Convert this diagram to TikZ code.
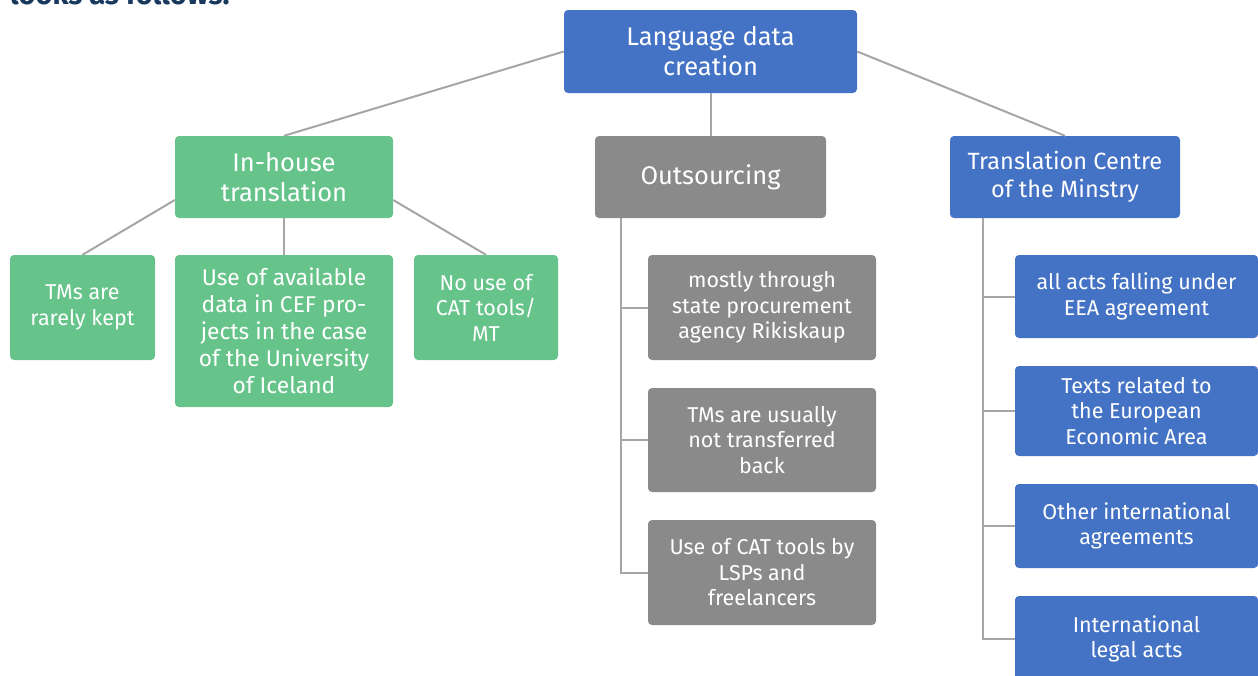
\documentclass[tikz,border=0pt]{standalone}
\usepackage{fontspec}
\setmainfont{Fira Sans}
\usetikzlibrary{calc}
\definecolor{boxblue}{RGB}{68,114,196}
\definecolor{boxgreen}{RGB}{102,196,138}
\definecolor{boxgray}{RGB}{138,138,138}
\definecolor{linegray}{RGB}{166,166,166}
\definecolor{navy}{RGB}{24,56,94}
\tikzset{
  box/.style={rounded corners=4pt, draw=none, text=white, align=center,
    inner sep=0pt, font=\fontsize{21.5}{25.5}\selectfont},
  bigbox/.style={box, font=\fontsize{25.5}{30}\selectfont},
  bluebox/.style={box, fill=boxblue},
  greenbox/.style={box, fill=boxgreen},
  graybox/.style={box, fill=boxgray},
  conn/.style={draw=linegray, line width=2pt},
}
\begin{document}
\begin{tikzpicture}[x=1pt, y=-1pt]
\useasboundingbox (0,0) rectangle (1258,675);
\clip (0,0) rectangle (1258,675);

% heading line running in from above
\node[anchor=base west, text=navy, inner sep=0pt,
  font=\fontsize{29}{32}\selectfont\bfseries] (heading) at (10,4.5) {looks as follows:};

% top level
\node[bigbox, fill=boxblue, minimum width=293pt, minimum height=83pt] (root) at (710.5,51.5) {Language data\\creation};

% second level
\node[bigbox, fill=boxgreen, minimum width=218pt, minimum height=82pt] (inh) at (284,177) {In-house\\translation};
\node[bigbox, fill=boxgray, minimum width=231pt, minimum height=82pt] (out) at (710.5,177) {Outsourcing};
\node[box, fill=boxblue, font=\fontsize{23.5}{28}\selectfont, minimum width=230pt, minimum height=82pt] (tc) at (1065,177) {Translation Centre\\of the Minstry};

% in-house branch
\node[greenbox, minimum width=145pt, minimum height=105pt] (g1) at (82.5,307.5) {TMs are\\rarely kept};
\node[greenbox, font=\fontsize{22.8}{27}\selectfont, minimum width=218pt, minimum height=152pt] (g2) at (284,331) {Use of available\\data in CEF pro-\\jects in the case\\of the University\\of Iceland};
\node[greenbox, minimum width=144pt, minimum height=105pt] (g3) at (486,307.5) {No use of\\CAT tools/\\MT};

% outsourcing branch
\node[graybox, minimum width=228pt, minimum height=105pt] (o1) at (762,307.5) {mostly through\\state procurement\\agency Rikiskaup};
\node[graybox, minimum width=228pt, minimum height=104pt] (o2) at (762,440) {TMs are usually\\not transferred\\back};
\node[graybox, minimum width=228pt, minimum height=105pt] (o3) at (762,572.5) {Use of CAT tools by\\LSPs and\\freelancers};

% translation centre branch
\node[bluebox, minimum width=243pt, minimum height=83pt] (b1) at (1136.5,296.5) {all acts falling under\\EEA agreement};
\node[bluebox, minimum width=243pt, minimum height=90pt] (b2) at (1136.5,411) {Texts related to\\the European\\Economic Area};
\node[bluebox, minimum width=243pt, minimum height=84pt] (b3) at (1136.5,526) {Other international\\agreements};
\node[bluebox, minimum width=243pt, minimum height=86pt] (b4) at (1136.5,639) {International\\legal acts};

% connectors from the top box
\draw[conn] (root.west) -- (inh.north);
\draw[conn] (root.east) -- (tc.north);
\draw[conn] (root.south) -- (out.north);

% connectors of the in-house branch
\draw[conn] ([yshift=-23pt]inh.west) -- (g1.north);
\draw[conn] (inh.south) -- (g2.north);
\draw[conn] ([yshift=-23pt]inh.east) -- (g3.north);

% outsourcing trunk and branches
\coordinate (ot) at ([xshift=26pt]out.south west);
\draw[conn] (ot) |- (o3.west);
\draw[conn] (o1.west) -- (o1.west -| ot);
\draw[conn] (o2.west) -- (o2.west -| ot);

% translation centre trunk and branches
\coordinate (tt) at ([xshift=33pt]tc.south west);
\draw[conn] (tt) |- (b4.west);
\draw[conn] (b1.west) -- (b1.west -| tt);
\draw[conn] (b2.west) -- (b2.west -| tt);
\draw[conn] (b3.west) -- (b3.west -| tt);
\end{tikzpicture}
\end{document}
